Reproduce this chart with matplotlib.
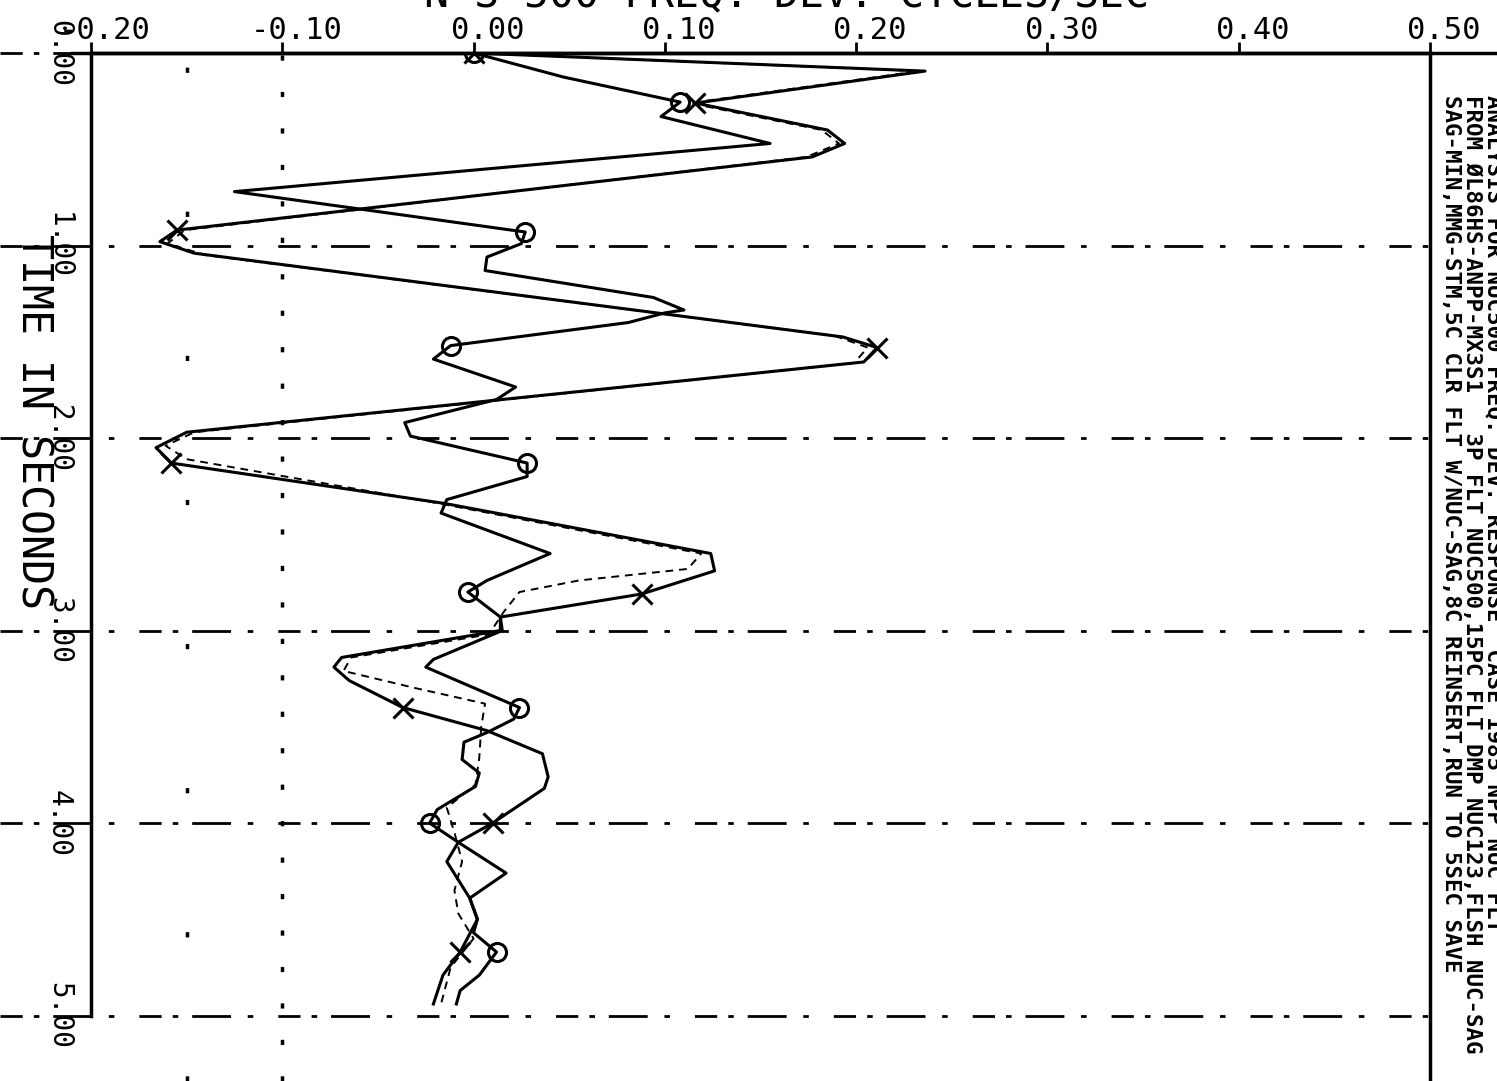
import numpy as np
import matplotlib
matplotlib.use("Agg")
import matplotlib.pyplot as plt
import matplotlib.transforms as mtransforms

plt.rcParams['font.family'] = ['DejaVu Sans Mono', 'DejaVu Sans']

# trace with circle markers (time in s, freq dev in cycles/sec)
t_a = [0.00, 0.125, 0.255, 0.33, 0.47, 0.72, 0.93, 0.99, 1.06, 1.13, 1.27, 1.335, 1.35, 1.40,
       1.52, 1.59, 1.735, 1.80, 1.92, 1.99, 2.13, 2.20, 2.32, 2.39, 2.60, 2.74, 2.80, 2.93,
       3.00, 3.15, 3.19, 3.40, 3.46, 3.53, 3.58, 3.67, 3.74, 3.81, 3.93, 4.00, 4.10, 4.26,
       4.39, 4.50, 4.57, 4.67, 4.79, 4.87, 4.94]
v_a = [0.000, 0.047, 0.108, 0.098, 0.155, -0.125, 0.027, 0.025, 0.007, 0.006, 0.094, 0.110,
       0.100, 0.081, -0.012, -0.021, 0.022, 0.012, -0.036, -0.033, 0.028, 0.028, -0.014,
       -0.017, 0.040, 0.007, -0.003, 0.014, 0.015, -0.021, -0.025, 0.024, 0.021, 0.007,
       -0.005, -0.006, 0.003, 0.001, -0.019, -0.023, -0.008, 0.017, -0.002, 0.002, 0.000,
       0.012, 0.003, -0.007, -0.009]
a_marks = [0, 2, 6, 14, 20, 26, 31, 39, 45]

# trace with x markers
t_b = [0.00, 0.094, 0.26, 0.40, 0.47, 0.54, 0.92, 0.98, 1.04, 1.475, 1.53, 1.605, 1.97, 2.05,
       2.13, 2.34, 2.60, 2.69, 2.81, 2.93, 3.00, 3.14, 3.19, 3.26, 3.40, 3.52, 3.64, 3.76,
       3.82, 4.00, 4.10, 4.20, 4.39, 4.50, 4.67, 4.79, 4.94]
v_b = [0.000, 0.236, 0.116, 0.185, 0.194, 0.177, -0.155, -0.164, -0.146, 0.193, 0.211, 0.204,
       -0.150, -0.166, -0.158, -0.015, 0.124, 0.126, 0.088, 0.014, 0.014, -0.069, -0.073,
       -0.065, -0.037, 0.007, 0.036, 0.039, 0.037, 0.010, -0.008, -0.014, -0.002, 0.002,
       -0.007, -0.016, -0.021]
b_marks = [0, 2, 6, 10, 14, 18, 24, 29, 34]

# dashed trace
t_c = [0.00, 0.094, 0.26, 0.40, 0.47, 0.54, 0.92, 0.99, 1.05, 1.47, 1.53, 1.61, 1.97, 2.04,
       2.11, 2.34, 2.60, 2.68, 2.74, 2.80, 2.90, 3.02, 3.14, 3.21, 3.30, 3.38, 3.50, 3.66,
       3.80, 3.92, 4.05, 4.20, 4.35, 4.47, 4.60, 4.75, 4.94]
v_c = [0.000, 0.233, 0.113, 0.182, 0.191, 0.174, -0.151, -0.160, -0.140, 0.189, 0.206, 0.199,
       -0.146, -0.161, -0.150, -0.018, 0.119, 0.112, 0.055, 0.024, 0.016, 0.008, -0.064,
       -0.068, -0.030, 0.006, 0.004, 0.003, 0.001, -0.014, -0.010, -0.006, -0.010, -0.008,
       0.000, -0.012, -0.017]

x_ticks = [-0.20, -0.10, 0.00, 0.10, 0.20, 0.30, 0.40, 0.50]
x_labels = ["-0.20", "-0.10", "0.00", "0.10", "0.20", "0.30", "0.40", "0.50"]
t_ticks = [0, 1, 2, 3, 4, 5]
t_labels = ["0.00", "1.00", "2.00", "3.00", "4.00", "5.00"]

title = "N-S 500 FREQ. DEV. CYCLES/SEC"
note1 = "ANALYSIS FOR NUC500 FREQ. DEV. RESPONSE  CASE 1985 NPP NUC FLT"
note2 = "FROM \u00d8L86HS-ANPP-MX3S1   3P FLT NUC500,15PC FLT DMP NUC123,FLSH NUC-SAG"
note3 = "SAG-MIN,MMG-STM,5C CLR FLT W/NUC-SAG,8C REINSERT,RUN TO 5SEC SAVE"

W, H = 1497, 1081
fig = plt.figure(figsize=(W / 100, H / 100), dpi=100)
ax = fig.add_axes([91 / W, 0, (1430 - 91) / W, (H - 53) / H])
ax.set_xlim(-0.20, 0.50)
ax.set_ylim(5.34, 0)

# grid lines (time) extended to the left margin
trans = mtransforms.blended_transform_factory(ax.transAxes, ax.transData)
dash = (0, (8, 4, 2, 5, 14, 6, 2, 9))
for t in t_ticks:
    x0 = -0.068
    x1 = 0.0 if t == 0 else 1.0
    ax.plot([x0, x1], [t, t], transform=trans, clip_on=False, color='k', lw=2.0, ls=dash)
ax.axvline(-0.10, color='k', lw=2.5, ls=(0, (1.5, 9)))
ax.axvline(-0.15, color='k', lw=2.5, ls=(0, (1.5, 40)))

# top axis line runs on to the page edge
ax.plot([-0.21, 0.54], [0, 0], color='k', lw=2.5, clip_on=False, zorder=5)

ax.plot(v_c, t_c, color='k', lw=1.4, ls=(0, (4, 3)))
ax.plot(v_b, t_b, color='k', lw=2.2)
ax.plot(v_a, t_a, color='k', lw=2.2)
va_arr, ta_arr = np.array(v_a), np.array(t_a)
vb_arr, tb_arr = np.array(v_b), np.array(t_b)
ax.plot(va_arr[a_marks], ta_arr[a_marks], 'o', mfc='none', mec='k', ms=13, mew=2.2)
ax.plot(vb_arr[b_marks], tb_arr[b_marks], 'x', color='k', ms=15, mew=2.2)

for s in ['top', 'left', 'right']:
    ax.spines[s].set_linewidth(2.5)
ax.spines['bottom'].set_visible(False)
ax.spines['left'].set_bounds(0, 5)

ax.xaxis.tick_top()
ax.set_xticks(x_ticks, x_labels)
ax.tick_params(axis='x', direction='out', length=8, width=2, pad=-2, labelsize=22)
for lab in ax.get_xticklabels():
    lab.set_transform(lab.get_transform() + mtransforms.ScaledTranslation(0.14, 0, fig.dpi_scale_trans))

ax.set_yticks(t_ticks, t_labels)
ax.tick_params(axis='y', length=0, pad=13, labelsize=20)
for lab in ax.get_yticklabels():
    lab.set_rotation(-90)
    lab.set_va('center')

ax.set_ylabel("TIME IN SECONDS", rotation=-90, fontsize=30, va='center', ha='center')
ax.yaxis.set_label_coords(-0.043, (H - 421) / (H - 53))

fig.text(787 / W, 1 - 7 / H, title, fontsize=30, ha='center', va='baseline')
fig.text(1494 / W, 1 - 95 / H, note1, fontsize=16.2, rotation=-90, ha='center', va='top',
         fontweight='bold')
fig.text(1472 / W, 1 - 95 / H, note2, fontsize=16.2, rotation=-90, ha='center', va='top',
         fontweight='bold')
fig.text(1451 / W, 1 - 95 / H, note3, fontsize=16.2, rotation=-90, ha='center', va='top',
         fontweight='bold')

fig.savefig("out.png", dpi=100)
